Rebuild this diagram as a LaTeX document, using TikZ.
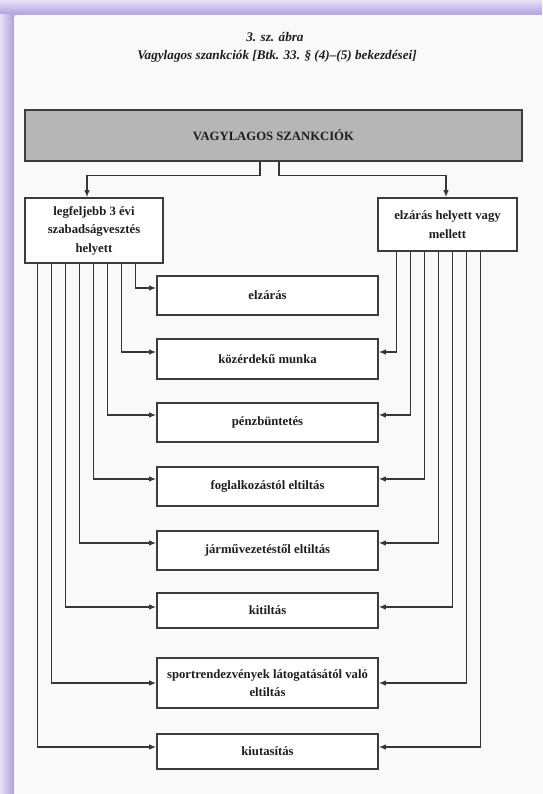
\documentclass[tikz,border=0pt]{standalone}
\usepackage{fontspec}
\setmainfont{Liberation Serif}
\usetikzlibrary{arrows.meta}
\definecolor{frlight}{HTML}{E6E1F6}
\definecolor{frdark}{HTML}{AE9FDD}
\definecolor{paper}{HTML}{F9F9F9}
\definecolor{boxline}{HTML}{3C3C3C}
\definecolor{lineC}{HTML}{363636}
\definecolor{hdrfill}{HTML}{B6B6B6}
\definecolor{txt}{HTML}{1E1E1E}
\newcommand\bxfont{\bfseries\fontsize{12.7}{18.5}\selectfont}
\newcommand\ttlfont{\bfseries\itshape\fontsize{13.2}{15}\selectfont}
\begin{document}
\begin{tikzpicture}[x=1pt,y=-1pt,
  boxst/.style={draw=boxline, line width=1.6pt, fill=white, inner sep=2pt,
    align=center, font=\bxfont, text=txt},
  midbox/.style={boxst, minimum width=221pt},
  hdrst/.style={boxst, fill=hdrfill, minimum width=497pt, minimum height=51pt},
  conn/.style={draw=lineC, line width=1.3pt, -{Latex[length=7pt,width=5.5pt]}},
  ttl/.style={font=\ttlfont, text=txt, inner sep=0pt}]
\useasboundingbox (0,0) rectangle (542,794);
% frame
\fill[frlight] (0,0) rectangle (542,794);
\shade[top color=frlight, bottom color=frdark] (0,0) rectangle (542,15);
\shade[left color=frlight, right color=frdark] (0,15) rectangle (14,794);
\fill[paper, rounded corners=4pt] (14,15) rectangle (560,810);
% titles
\node[ttl] (t1) at (275,37) {3. sz. ábra};
\node[ttl] (t2) at (277,56) {Vagylagos szankciók [Btk. 33. § (4)–(5) bekezdései]};
% header
\node[hdrst] (top) at (273.5,135.5) {VAGYLAGOS SZANKCIÓK};
% branch boxes
\node[boxst, minimum width=138pt, minimum height=65pt] (lb) at (94,230.5)
  {legfeljebb 3 évi\\szabadságvesztés\\helyett};
\node[boxst, minimum width=139pt, minimum height=53pt] (rb) at (447.5,224.5)
  {elzárás helyett vagy\\mellett};
% sanction boxes
\node[midbox, minimum height=39pt] (m1) at (267.5,295.5) {elzárás};
\node[midbox, minimum height=40pt] (m2) at (267.5,359) {közérdekű munka};
\node[midbox, minimum height=39pt] (m3) at (267.5,422.5) {pénzbüntetés};
\node[midbox, minimum height=39pt] (m4) at (267.5,486.5) {foglalkozástól eltiltás};
\node[midbox, minimum height=39pt] (m5) at (267.5,550.5) {járművezetéstől eltiltás};
\node[midbox, minimum height=35pt] (m6) at (267.5,610.5) {kitiltás};
\node[midbox, minimum height=50pt] (m7) at (267.5,683) {sportrendezvények látogatásától való\\eltiltás};
\node[midbox, minimum height=35pt] (m8) at (267.5,751.5) {kiutasítás};
% top connectors
\draw[conn] ([xshift=-13.5pt]top.south) -- ++(0,14) -| ([xshift=-7pt]lb.north);
\draw[conn] ([xshift=5.5pt]top.south) -- ++(0,14) -| ([xshift=-1.5pt]rb.north);
% left connectors
\draw[conn] ([xshift=111pt]lb.south west) |- ([yshift=7.5pt]m1.west);
\draw[conn] ([xshift=97pt]lb.south west) |- ([yshift=7pt]m2.west);
\draw[conn] ([xshift=83pt]lb.south west) |- ([yshift=7.5pt]m3.west);
\draw[conn] ([xshift=69pt]lb.south west) |- ([yshift=7.5pt]m4.west);
\draw[conn] ([xshift=55pt]lb.south west) |- ([yshift=7.5pt]m5.west);
\draw[conn] ([xshift=41pt]lb.south west) |- ([yshift=3.5pt]m6.west);
\draw[conn] ([xshift=27pt]lb.south west) |- (m7.west);
\draw[conn] ([xshift=13pt]lb.south west) |- ([yshift=4.5pt]m8.west);
% right connectors
\draw[conn] ([xshift=19pt]rb.south west) |- ([yshift=7pt]m2.east);
\draw[conn] ([xshift=33pt]rb.south west) |- ([yshift=7.5pt]m3.east);
\draw[conn] ([xshift=47pt]rb.south west) |- ([yshift=7.5pt]m4.east);
\draw[conn] ([xshift=61pt]rb.south west) |- ([yshift=7.5pt]m5.east);
\draw[conn] ([xshift=75pt]rb.south west) |- ([yshift=3.5pt]m6.east);
\draw[conn] ([xshift=89pt]rb.south west) |- (m7.east);
\draw[conn] ([xshift=103pt]rb.south west) |- ([yshift=4.5pt]m8.east);
\end{tikzpicture}
\end{document}
